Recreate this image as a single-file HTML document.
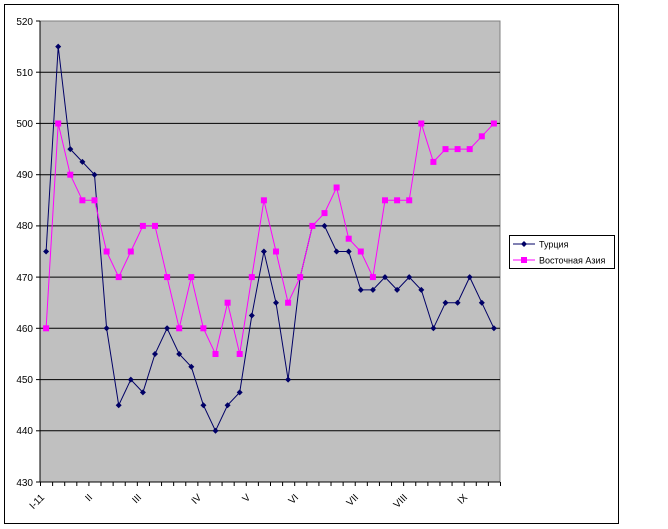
<!DOCTYPE html>
<html><head><meta charset="utf-8"><style>
html,body{margin:0;padding:0;background:#fff;width:668px;height:529px;overflow:hidden}
svg{display:block;font-family:"Liberation Sans",Arial,sans-serif}
</style></head><body>
<svg width="668" height="529" viewBox="0 0 668 529" xmlns="http://www.w3.org/2000/svg">
<defs>
<marker id="dm" markerUnits="userSpaceOnUse" markerWidth="8" markerHeight="8" refX="4" refY="4"><path d="M4 1 L7 4 L4 7 L1 4 Z" fill="#000066"/></marker>
<marker id="sm" markerUnits="userSpaceOnUse" markerWidth="8" markerHeight="8" refX="4" refY="4"><rect x="1" y="1" width="6" height="6" fill="#ff00ff"/></marker>
</defs>
<rect x="4.5" y="4.5" width="614" height="519" fill="#fff" stroke="#000" stroke-width="1"/>
<rect x="40" y="21" width="460" height="461" fill="#c0c0c0" stroke="#808080" stroke-width="1"/>
<g stroke="#000" stroke-width="1">
<line x1="40" y1="72.2" x2="500" y2="72.2"/>
<line x1="40" y1="123.4" x2="500" y2="123.4"/>
<line x1="40" y1="174.7" x2="500" y2="174.7"/>
<line x1="40" y1="225.9" x2="500" y2="225.9"/>
<line x1="40" y1="277.1" x2="500" y2="277.1"/>
<line x1="40" y1="328.3" x2="500" y2="328.3"/>
<line x1="40" y1="379.6" x2="500" y2="379.6"/>
<line x1="40" y1="430.8" x2="500" y2="430.8"/>
<line x1="40" y1="21" x2="40" y2="482"/>
<line x1="40" y1="482" x2="500" y2="482"/>
<line x1="40" y1="484" x2="501" y2="484" stroke-width="4" stroke-dasharray="1 11.105"/>
</g>
<g stroke="#000" stroke-width="1">
<line x1="36" y1="21" x2="40" y2="21"/><line x1="36" y1="72.2" x2="40" y2="72.2"/><line x1="36" y1="123.4" x2="40" y2="123.4"/><line x1="36" y1="174.7" x2="40" y2="174.7"/><line x1="36" y1="225.9" x2="40" y2="225.9"/><line x1="36" y1="277.1" x2="40" y2="277.1"/><line x1="36" y1="328.3" x2="40" y2="328.3"/><line x1="36" y1="379.6" x2="40" y2="379.6"/><line x1="36" y1="430.8" x2="40" y2="430.8"/><line x1="36" y1="482" x2="40" y2="482"/>
</g>
<g font-size="10" text-anchor="end" fill="#000">
<text x="33" y="25">520</text><text x="33" y="76">510</text><text x="33" y="127">500</text><text x="33" y="178">490</text><text x="33" y="229">480</text><text x="33" y="281">470</text><text x="33" y="332">460</text><text x="33" y="383">450</text><text x="33" y="434">440</text><text x="33" y="486">430</text>
</g>
<g font-size="10" text-anchor="end" fill="#000">
<text transform="translate(45,498) rotate(-45)">I-11</text>
<text transform="translate(93,498) rotate(-45)">II</text>
<text transform="translate(142,498) rotate(-45)">III</text>
<text transform="translate(202,498) rotate(-45)">IV</text>
<text transform="translate(251,498) rotate(-45)">V</text>
<text transform="translate(299,498) rotate(-45)">VI</text>
<text transform="translate(359,498) rotate(-45)">VII</text>
<text transform="translate(408,498) rotate(-45)">VIII</text>
<text transform="translate(468,498) rotate(-45)">IX</text>
</g>
<polyline fill="none" stroke="#000066" stroke-width="1" marker-start="url(#dm)" marker-mid="url(#dm)" marker-end="url(#dm)" points="46.1,251.5 58.2,46.6 70.3,149.1 82.4,161.9 94.5,174.7 106.6,328.3 118.7,405.2 130.8,379.6 142.9,392.4 155,354 167.1,328.3 179.2,354 191.3,366.8 203.4,405.2 215.5,430.8 227.6,405.2 239.7,392.4 251.8,315.5 263.9,251.5 276,302.7 288.1,379.6 300.2,277.1 312.4,225.9 324.5,225.9 336.6,251.5 348.7,251.5 360.8,289.9 372.9,289.9 385,277.1 397.1,289.9 409.2,277.1 421.3,289.9 433.4,328.3 445.5,302.7 457.6,302.7 469.7,277.1 481.8,302.7 493.9,328.3"/>
<polyline fill="none" stroke="#ff00ff" stroke-width="1" marker-start="url(#sm)" marker-mid="url(#sm)" marker-end="url(#sm)" points="46.1,328.3 58.2,123.5 70.3,174.7 82.4,200.3 94.5,200.3 106.6,251.5 118.7,277.1 130.8,251.5 142.9,225.9 155,225.9 167.1,277.1 179.2,328.3 191.3,277.1 203.4,328.3 215.5,354 227.6,302.7 239.7,354 251.8,277.1 263.9,200.3 276,251.5 288.1,302.7 300.2,277.1 312.4,225.9 324.5,213.1 336.6,187.5 348.7,238.7 360.8,251.5 372.9,277.1 385,200.3 397.1,200.3 409.2,200.3 421.3,123.5 433.4,161.9 445.5,149.1 457.6,149.1 469.7,149.1 481.8,136.3 493.9,123.5"/>
<rect x="509.5" y="235.5" width="105" height="33" fill="#fff" stroke="#000" stroke-width="1"/>
<line x1="513" y1="244" x2="535" y2="244" stroke="#000066"/>
<path d="M524 241 L527 244 L524 247 L521 244 Z" fill="#000066"/>
<line x1="513" y1="260" x2="535" y2="260" stroke="#ff00ff"/>
<rect x="521" y="257" width="6" height="6" fill="#ff00ff"/>
<text x="539" y="247.5" font-size="9" fill="#000">Турция</text>
<text x="539" y="263.5" font-size="9" fill="#000">Восточная Азия</text>
</svg>
</body></html>
